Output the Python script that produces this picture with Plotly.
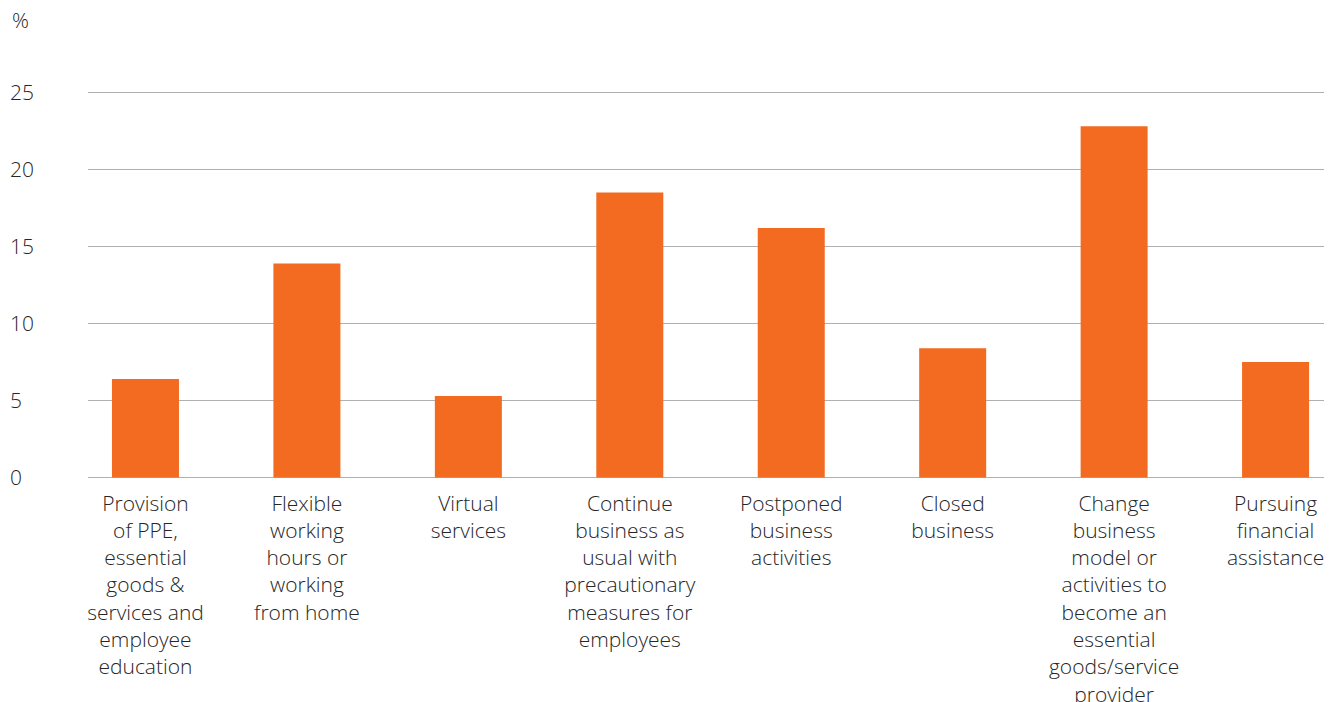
import plotly.graph_objects as go

# Business responses, share of respondents (%)
categories = [
    "Provision<br>of PPE,<br>essential<br>goods &<br>services and<br>employee<br>education",
    "Flexible<br>working<br>hours or<br>working<br>from home",
    "Virtual<br>services",
    "Continue<br>business as<br>usual with<br>precautionary<br>measures for<br>employees",
    "Postponed<br>business<br>activities",
    "Closed<br>business",
    "Change<br>business<br>model or<br>activities to<br>become an<br>essential<br>goods/service<br>provider",
    "Pursuing<br>financial<br>assistance",
]
values = [6.4, 13.9, 5.3, 18.5, 16.2, 8.4, 22.8, 7.5]
y_ticks = [0, 5, 10, 15, 20, 25]

FONT = "Open Sans"
TEXT = "#262626"
SIZE = 21
W, H = 1339, 702
ML, MR, MT, MB = 6, 15, 77, 209
Y_RANGE = [-1, 26]
plot_w = W - ML - MR
plot_h = H - MT - MB
x_start = (88 - ML) / plot_w
# x axis sits on the zero line
x_axis_pos = (0 - Y_RANGE[0]) / (Y_RANGE[1] - Y_RANGE[0])

fig = go.Figure(
    go.Bar(
        x=list(range(len(categories))),
        y=values,
        marker=dict(color="#F26B21", line=dict(width=0)),
        width=0.415,
        hoverinfo="skip",
    )
)

fig.update_layout(
    width=W,
    height=H,
    margin=dict(l=ML, r=MR, t=MT, b=MB),
    paper_bgcolor="white",
    plot_bgcolor="white",
    showlegend=False,
    font=dict(family=FONT, size=SIZE, color=TEXT, weight=300),
    xaxis=dict(
        domain=[x_start, 1],
        range=[-0.356, 7.30],
        anchor="free",
        position=x_axis_pos,
        automargin=False,
        tickmode="array",
        tickvals=list(range(len(categories))),
        ticktext=categories,
        tickangle=0,
        showgrid=False,
        zeroline=False,
        showline=False,
        ticks="",
        ticklabelstandoff=11,
        tickfont=dict(family=FONT, size=SIZE, color=TEXT, weight=300),
    ),
    yaxis=dict(
        range=Y_RANGE,
        automargin=False,
        tickvals=y_ticks,
        showticklabels=False,
        showgrid=True,
        gridcolor="#b0b0b0",
        gridwidth=1,
        zeroline=False,
        showline=False,
        ticks="",
    ),
    yaxis2=dict(
        overlaying="y",
        anchor="free",
        position=0,
        automargin=False,
        range=Y_RANGE,
        tickvals=y_ticks,
        ticklabelposition="inside",
        showgrid=False,
        zeroline=False,
        showline=False,
        ticks="",
        tickfont=dict(family=FONT, size=SIZE, color=TEXT, weight=300),
    ),
    annotations=[
        dict(
            text="%",
            x=(10 - ML) / plot_w,
            y=1 + (MT - 20) / plot_h,
            xref="paper",
            yref="paper",
            xanchor="left",
            yanchor="middle",
            showarrow=False,
            font=dict(family=FONT, size=SIZE, color=TEXT, weight=300),
        )
    ],
)

# invisible trace so the left label axis is drawn
fig.add_trace(go.Scatter(x=[0], y=[0], yaxis="y2", mode="markers",
                         marker=dict(opacity=0), hoverinfo="skip", showlegend=False))

fig.write_html("out.html")
